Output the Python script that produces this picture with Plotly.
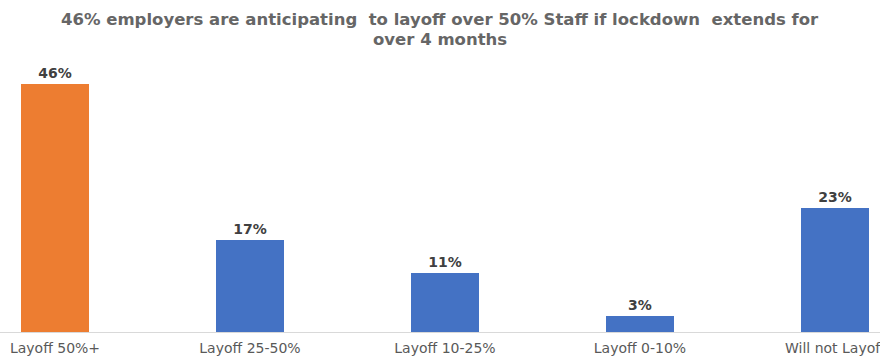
import plotly.graph_objects as go

categories = ["Layoff 50%+", "Layoff 25-50%", "Layoff 10-25%", "Layoff 0-10%", "Will not Layoff"]
values = [46, 17, 11, 3, 23]
labels = ["46%", "17%", "11%", "3%", "23%"]
colors = ["#ED7D31", "#4472C4", "#4472C4", "#4472C4", "#4472C4"]
title_lines = [
    "46% employers are anticipating  to layoff over 50% Staff if lockdown  extends for",
    "over 4 months",
]

fig = go.Figure(go.Bar(
    x=list(range(len(categories))),
    y=values,
    text=labels,
    textposition="outside",
    textfont=dict(family="DejaVu Sans", size=14, color="#404040", weight="bold"),
    marker=dict(color=colors, line=dict(width=0)),
    width=0.35,
    cliponaxis=False,
))

# title as two centered lines
for line, ypos in zip(title_lines, [1.1556, 1.0815]):
    fig.add_annotation(
        text=line, xref="paper", yref="paper", x=0.5, y=ypos,
        xanchor="center", yanchor="middle", showarrow=False,
        font=dict(family="DejaVu Sans", size=16.5, color="#666666", weight="bold"),
    )

fig.update_layout(
    width=880, height=356,
    margin=dict(l=0, r=0, t=62, b=24, autoexpand=False),
    paper_bgcolor="white", plot_bgcolor="white",
    xaxis=dict(
        tickmode="array", tickvals=list(range(len(categories))), ticktext=categories,
        range=[-0.282, 4.231],
        showline=True, linecolor="#D9D9D9", linewidth=1,
        showgrid=False, zeroline=False, ticks="",
        ticklabelstandoff=3,
        ticklabeloverflow="allow",
        automargin=False,
        tickfont=dict(family="DejaVu Sans", size=14, color="#595959"),
    ),
    yaxis=dict(range=[0, 50], visible=False, showgrid=False, zeroline=False),
    showlegend=False,
    bargap=0,
)

fig.write_html(
    "out.html",
    config={"displayModeBar": False},
    post_script="document.body.style.margin='0';document.body.style.overflow='hidden';",
)
